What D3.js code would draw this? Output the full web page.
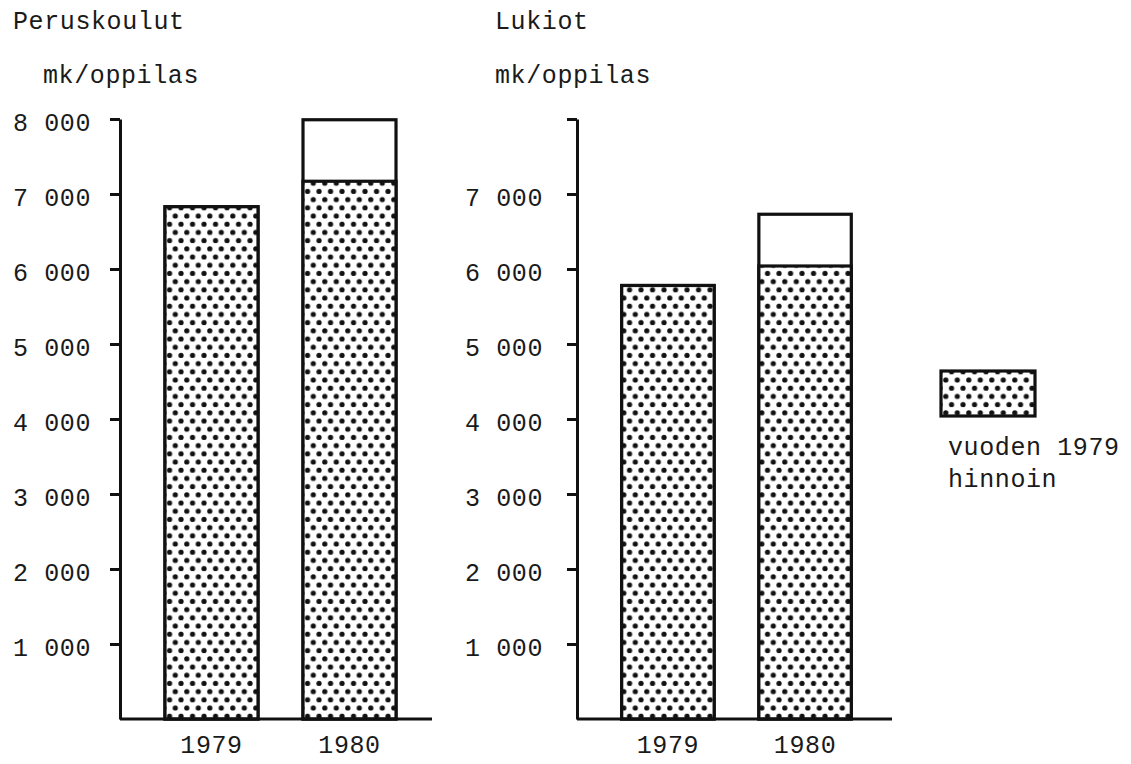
<!DOCTYPE html>
<html><head><meta charset="utf-8">
<script src="https://cdn.jsdelivr.net/npm/d3@7"></script>
<style>
body{margin:0;background:#fff;}
text{font-family:"Liberation Mono","DejaVu Sans Mono",monospace;font-size:25px;fill:#1a1a1a;letter-spacing:0.6px;}
</style></head>
<body>
<svg id="c" width="1131" height="764"></svg>
<script>
const years = ["1979", "1980"];
// Peruskoulut (mk/oppilas): total and at 1979 prices
const peruskoulutTotal = [6830, 7990];
const peruskoulut1979Prices = [6830, 7170];
// Lukiot (mk/oppilas)
const lukiotTotal = [5780, 6730];
const lukiot1979Prices = [5780, 6040];
const leftTicks = [1000, 2000, 3000, 4000, 5000, 6000, 7000, 8000];
const rightTicks = [1000, 2000, 3000, 4000, 5000, 6000, 7000, 8000];
const rightTickLabels = ["1 000", "2 000", "3 000", "4 000", "5 000", "6 000", "7 000", ""];
const titles = ["Peruskoulut", "Lukiot"];
const unitLabel = "mk/oppilas";
const legendText = ["vuoden 1979", "hinnoin"];

const svg = d3.select("#c");
const defs = svg.append("defs");
const pat = defs.append("pattern").attr("id", "dots").attr("patternUnits", "userSpaceOnUse")
  .attr("width", 11.5).attr("height", 16.4);
pat.append("rect").attr("width", 11.5).attr("height", 16.4).attr("fill", "#fff");
pat.append("circle").attr("cx", 2.8).attr("cy", 2.8).attr("r", 2.6).attr("fill", "#111");
pat.append("circle").attr("cx", 8.55).attr("cy", 11).attr("r", 2.6).attr("fill", "#111");

const fmt = v => d3.format(",")(v).replace(",", " ");

function panel(cfg) {
  const y = d3.scaleLinear().domain([0, 8000]).range([719, 119]);
  const x = d3.scaleBand().domain(years).range([cfg.x0, cfg.x0 + cfg.span])
    .paddingInner(0.326).paddingOuter(0.326);
  const g = svg.append("g");
  g.append("text").attr("x", cfg.titleX).attr("y", 29).text(cfg.title);
  g.append("text").attr("x", cfg.unitX).attr("y", 83).text(unitLabel);
  g.selectAll(".tot").data(years).enter().append("rect")
    .attr("x", d => x(d)).attr("width", x.bandwidth())
    .attr("y", (d, i) => y(cfg.total[i])).attr("height", (d, i) => y(0) - y(cfg.total[i]))
    .attr("fill", "#fff").attr("stroke", "#111").attr("stroke-width", 3.2);
  g.selectAll(".pat").data(years).enter().append("rect")
    .attr("x", d => x(d)).attr("width", x.bandwidth())
    .attr("y", (d, i) => y(cfg.real[i])).attr("height", (d, i) => y(0) - y(cfg.real[i]))
    .attr("fill", "url(#dots)").attr("stroke", "#111").attr("stroke-width", 3.2);
  const ax = d3.axisLeft(y).tickValues(cfg.ticks).tickSize(10).tickSizeOuter(0)
    .tickPadding(cfg.pad).tickFormat((d, i) => cfg.labels ? cfg.labels[i] : fmt(d));
  const ag = g.append("g").attr("transform", `translate(${cfg.x0},0)`).call(ax);
  ag.selectAll("path,line").attr("stroke", "#111").attr("stroke-width", 3);
  ag.selectAll("text").style("font-size", "25px").style("font-family", null)
    .attr("fill", "#1a1a1a").attr("dy", "0.45em");
  g.append("line").attr("x1", cfg.x0).attr("x2", cfg.baseEnd).attr("y1", y(0)).attr("y2", y(0))
    .attr("stroke", "#111").attr("stroke-width", 3);
  g.selectAll(".xl").data(years).enter().append("text")
    .attr("x", d => x(d) + x.bandwidth() / 2).attr("y", 753).attr("text-anchor", "middle").text(d => d);
}

panel({x0: 120, span: 321, baseEnd: 432, title: titles[0], titleX: 13, unitX: 43,
  total: peruskoulutTotal, real: peruskoulut1979Prices, ticks: leftTicks, pad: 19});
panel({x0: 577, span: 319, baseEnd: 892, title: titles[1], titleX: 495, unitX: 495,
  total: lukiotTotal, real: lukiot1979Prices, ticks: rightTicks, labels: rightTickLabels, pad: 24});

svg.append("rect").attr("x", 941).attr("y", 371).attr("width", 94).attr("height", 45)
  .attr("fill", "url(#dots)").attr("stroke", "#111").attr("stroke-width", 3.2);
svg.append("text").attr("x", 948).attr("y", 455).text(legendText[0]);
svg.append("text").attr("x", 948).attr("y", 487).text(legendText[1]);
</script>
</body></html>
